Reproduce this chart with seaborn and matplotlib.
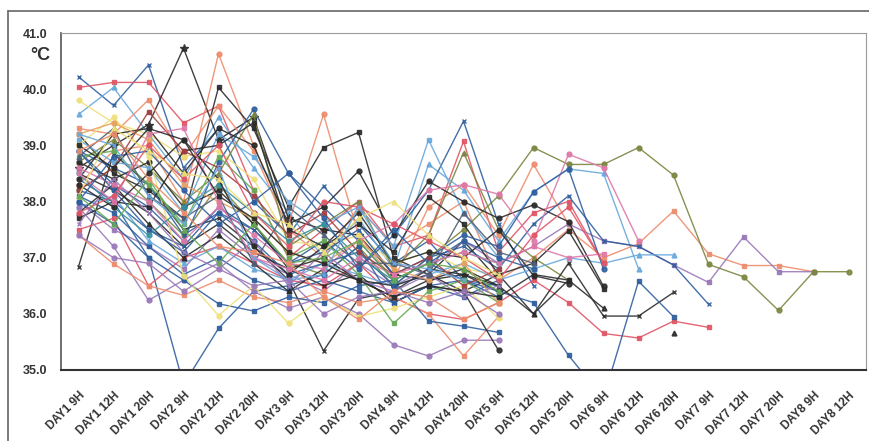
import numpy as np
import matplotlib
matplotlib.use("Agg")
import matplotlib.pyplot as plt
import seaborn as sns
from matplotlib.lines import Line2D

categories = ["DAY1 9H", "DAY1 12H", "DAY1 20H", "DAY2 9H", "DAY2 12H", "DAY2 20H",
              "DAY3 9H", "DAY3 12H", "DAY3 20H", "DAY4 9H", "DAY4 12H", "DAY4 20H",
              "DAY5 9H", "DAY5 12H", "DAY5 20H", "DAY6 9H", "DAY6 12H", "DAY6 20H",
              "DAY7 9H", "DAY7 12H", "DAY7 20H", "DAY8 9H", "DAY8 12H"]
y_ticks = [35.0, 36.0, 37.0, 38.0, 39.0, 40.0, 41.0]

s01 = [40.22, 39.71, 40.43, 38.6, 39.3, 38.0, 37.4, 38.27, 37.6, 36.9, 37.3, 36.6, 36.5]
s02 = [40.03, 40.12, 40.12, 39.4, 39.7, 38.2, 37.0, 37.5, 38.0, 37.2, 37.4, 39.07, 37.1, 37.8, 38.0, 36.9]
s03 = [39.55, 40.03, 39.2, 38.4, 39.5, 38.6, 37.8, 37.0, 37.7, 36.8, 38.66, 38.2, 37.3, 38.17, 38.58, 38.5, 36.8]
s04 = [38.6, 39.0, 39.37, 40.73, 39.1, 39.5, 37.7, 37.5, 37.4, 36.7, 36.6, 36.7, 36.4]
s05 = [38.3, 38.9, 39.0, 38.0, 40.63, 39.0, 37.6, 39.55, 37.4, 36.6, 37.9, 38.3, 37.4, 38.66, 37.6]
s06 = [39.2, 38.5, 38.2, 37.7, 40.03, 39.3, 37.9, 38.96, 39.23, 37.0, 36.7, 37.3, 36.6]
s07 = [39.3, 39.2, 39.81, 38.8, 39.7, 38.9, 37.5, 37.0, 37.9, 37.2, 37.6, 38.0, 36.6, 37.0, 37.5, 37.0, 37.25, 37.83, 37.07, 36.86, 36.86, 36.75]
s08 = [38.0, 37.5, 37.2, 36.8, 37.5, 37.0, 36.7, 36.4, 36.9, 36.5, 36.8, 37.3, 36.9, 37.2, 37.6, 37.3, 37.2, 36.87, 36.56, 37.37, 36.75, 36.75]
s09 = [38.2, 38.6, 38.0, 37.4, 38.3, 37.6, 36.9, 36.7, 37.2, 36.5, 37.0, 37.5, 38.1, 38.96, 38.66, 38.66, 38.96, 38.47, 36.88, 36.66, 36.06, 36.75, 36.75]
s10 = [39.8, 39.4, 39.2, 38.8, 38.9, 38.4, 37.3, 37.2, 37.4, 36.9, 37.1, 36.8, 36.7]
s11 = [38.2, 38.0, 37.0, 34.74, 35.74, 36.4, 36.5, 36.7, 37.2, 36.2, 36.5, 36.3, 36.6]
s12 = [36.84, 38.85, 38.3, 37.5, 37.7, 37.2, 36.6, 35.34, 36.27, 36.4, 36.8, 36.7, 36.5]
s13 = [38.9, 38.3, 37.9, 37.3, 38.7, 39.64, 38.5, 37.9, 37.3, 36.6, 36.9, 36.6, 36.3]
s14 = [38.7, 39.1, 38.6, 38.0, 38.5, 39.55, 37.2, 37.6, 38.0, 36.8, 37.4, 38.87, 37.5, 37.0, 36.6]
s15 = [38.9, 38.6, 38.3, 37.4, 37.8, 37.5, 36.9, 37.3, 36.8, 37.4, 38.2, 39.43, 37.6, 36.5]
s16 = [39.1, 38.7, 38.6, 37.8, 39.2, 38.8, 38.0, 37.6, 37.9, 37.2, 39.1, 37.8, 37.0]
s17 = [37.5, 37.7, 36.5, 37.0, 37.2, 36.9, 36.6, 36.5, 36.9, 36.3, 36.0, 35.9, 36.2, 36.6, 36.2, 35.65, 35.57, 35.87, 35.76]
s18 = [38.5, 38.2, 37.8, 37.2, 37.6, 37.1, 36.8, 36.5, 36.7, 36.2, 36.5, 36.4, 36.7, 36.0, 36.9, 35.96, 35.96, 36.38]
s19 = [38.1, 37.8, 37.2, 36.7, 37.0, 36.6, 36.4, 36.6, 36.4, 36.2, 36.5, 36.6, 36.4, 36.2, 35.26, 34.5, 36.58, 35.95]
s20 = [38.4, 38.0, 37.5, 37.2, 37.9, 37.5, 36.9, 37.1, 37.5, 36.7, 37.0, 37.2, 36.8, 37.6, 38.1, 37.3, 37.2, 36.87, 36.17]
s21 = [37.9, 38.1, 37.3, 36.9, 37.2, 36.8, 36.6, 36.9, 36.7, 36.5, 36.7, 36.9, 36.6, 36.8, 37.0, 36.9, 37.05, 37.05]
s22 = [37.8, 38.3, 37.6, 37.0, 37.4, 36.9, 36.4, 36.8, 36.6, 36.3, 36.6, 36.8, 36.5, 36.0, 36.6, 36.1, None, 35.65]
s23 = [37.9, 37.2, 36.24, 36.6, 36.9, 36.4, 36.1, 36.3, 36.0, 35.45, 35.25, 35.53, 35.53]
s24 = [37.4, 36.89, 36.5, 36.33, 36.6, 36.3, 36.2, 36.4, 36.2, 36.3, 36.0, 35.25, 35.95]
s25 = [38.0, 37.6, 37.0, 36.6, 36.18, 36.05, 36.3, 36.2, 36.5, 36.6, 35.87, 35.78, 35.67]
s26 = [38.7, 38.4, 38.7, 37.9, 38.2, 37.6, 36.8, 37.0, 36.6, 36.5, 36.7, 36.4, 35.35]
s27 = [39.0, 39.5, 38.8, 36.68, 35.97, 36.5, 35.83, 36.3, 35.95, 36.1, 36.3, 36.5, 35.92]
s28 = [38.8, 38.9, 38.3, 37.6, 38.8, 38.2, 37.0, 37.3, 36.7, 35.83, 36.4, 36.6, 36.2]
s29 = [38.4, 39.2, 39.3, 38.5, 39.3, 39.0, 37.6, 37.9, 38.54, 37.4, 38.36, 38.0, 37.7, 37.94, 37.64, 36.49]
s30 = [37.7, 38.0, 37.9, 38.9, 39.0, 39.4, 37.5, 37.2, 37.6, 37.1, 38.08, 37.6, 36.7, 36.9, 37.48, 36.45]
s31 = [38.6, 38.3, 38.0, 37.3, 37.9, 37.4, 36.9, 36.8, 37.3, 37.6, 38.2, 38.3, 38.13, 37.3, 38.84, 38.6, 37.3]
s32 = [38.9, 38.2, 37.5, 37.1, 37.8, 37.3, 36.7, 36.9, 37.1, 36.5, 37.0, 37.4, 37.2, 38.17, 38.58, 36.8]
s33 = [38.5, 37.9, 37.4, 37.9, 38.3, 37.8, 37.3, 37.6, 37.0, 36.6, 36.9, 37.1, 36.9]
s34 = [39.2, 39.4, 39.1, 38.3, 38.0, 37.7, 37.1, 36.9, 37.3, 36.8, 36.6, 36.9, 36.2]
s35 = [38.2, 38.6, 39.6, 38.9, 38.6, 38.1, 37.4, 37.8, 37.1, 36.7, 37.0, 36.5, 36.8]
s36 = [37.6, 38.4, 37.8, 37.1, 36.8, 37.3, 36.5, 37.1, 36.6, 36.4, 36.7, 36.3, 36.5]
s37 = [38.3, 37.9, 38.5, 39.1, 38.4, 37.2, 36.7, 37.2, 37.8, 36.9, 37.1, 37.0, 37.5, 36.68, 36.54]
s38 = [38.8, 39.3, 38.1, 37.7, 38.1, 36.9, 37.9, 37.4, 36.9, 36.9, 36.7, 37.8, 37.1, 36.9]
s39 = [38.5, 38.0, 39.2, 39.3, 38.0, 37.0, 36.8, 36.6, 37.0, 36.7, 36.9, 37.1, 36.9, 37.2, 37.0, 37.07]
s40 = [38.0, 38.8, 38.9, 38.2, 37.6, 38.0, 38.5, 37.7, 36.8, 37.5, 36.9, 37.3, 37.0, 36.8]
s41 = [37.8, 38.1, 39.0, 38.4, 39.0, 37.8, 37.2, 38.0, 37.9, 37.6, 37.3, 37.0, 36.6, 37.4, 37.9, 36.9]
s42 = [39.0, 38.6, 39.3, 39.1, 38.1, 37.7, 37.1, 36.9, 36.6, 36.3, 36.5, 36.4, 36.3, 36.7, 36.6]
s43 = [38.1, 39.3, 38.9, 38.5, 38.4, 37.8, 37.6, 37.1, 37.7, 38.0, 37.4, 37.0, 36.7]
s44 = [39.2, 39.0, 38.1, 37.6, 38.6, 37.0, 36.6, 36.7, 37.9, 36.9, 36.8, 36.6]
s45 = [38.1, 37.6, 38.4, 37.5, 36.9, 37.6, 36.9, 37.0, 37.3, 36.6, 36.9, 36.8, 36.4]
s46 = [37.4, 37.0, 36.9, 36.4, 36.8, 36.5, 36.6, 36.0, 36.3, 36.4, 36.2, 36.4, 36.0]
s47 = [38.9, 39.2, 38.4, 37.8, 37.2, 37.1, 36.9, 36.3, 35.9, 36.4, 36.3, 35.9, 36.2]

series = [s01, s02, s03, s04, s05, s06, s07, s08, s09, s10, s11, s12, s13, s14, s15, s16,
          s17, s18, s19, s20, s21, s22, s23, s24, s25, s26, s27, s28, s29, s30, s31, s32,
          s33, s34, s35, s36, s37, s38, s39, s40, s41, s42, s43, s44, s45, s46, s47]

BLK, BLU, RED, SAL, YEL, PUR, LBL, OLV, PNK, GRN, TEA, DRD, ORG = (
    "#2b2b2b", "#2f5f9f", "#e05566", "#ee8c6c", "#eee07a", "#9a78b8", "#68a8dc",
    "#7b8640", "#de78a8", "#66aa55", "#3a8f9f", "#a04040", "#e8a060")
colors = [BLU, RED, LBL, BLK, SAL, BLK, SAL, PUR, OLV, YEL, BLU, BLK, BLU, OLV, BLU, LBL,
          RED, BLK, BLU, BLU, LBL, BLK, PUR, SAL, BLU, BLK, YEL, GRN, BLK, BLK, PNK, BLU,
          TEA, ORG, DRD, PUR, BLK, "#50607a", PNK, BLU, RED, BLK, YEL, LBL, GRN, PUR, SAL]
markers = ["x", "s", "^", "*", "o", "s", "s", "s", "o", "o", "s", "x", "o", "^", "x", "s",
           "s", "x", "s", "x", "^", "^", "o", "s", "s", "o", "o", "s", "o", "s", "o", "o",
           "o", "o", "s", "x", "o", "^", "s", "o", "o", "s", "^", "x", "^", "o", "s"]

sns.set_style("white")
plt.rcParams["font.family"] = ["Liberation Sans", "DejaVu Sans"]

fig = plt.figure(figsize=(8.69, 4.41), dpi=100)
ax = fig.add_axes([61 / 869, 1 - 370 / 441, 805 / 869, 337 / 441])

for vals, c, m in zip(series, colors, markers):
    y = np.array([np.nan if v is None else v for v in vals], dtype=float)
    x = np.arange(len(y))
    runs, cur = [], []
    for i, v in enumerate(y):
        if np.isnan(v):
            if cur:
                runs.append(cur)
            cur = []
        else:
            cur.append(i)
    if cur:
        runs.append(cur)
    for r in runs:
        sns.lineplot(x=x[r], y=y[r], ax=ax, color=c, marker=m, markersize=3.5 if m != "*" else 6,
                     markeredgecolor=c, markeredgewidth=1.0, linewidth=1.0, alpha=0.9,
                     estimator=None, sort=False, legend=False)

ax.set_xlim(-0.5, len(categories) - 0.5)
ax.set_ylim(35.0, 41.0)
ax.set_yticks(y_ticks)
ax.set_yticklabels([f"{t:.1f}" for t in y_ticks], fontsize=9, fontweight="bold", color="#333333")
ax.set_xticks(np.arange(len(categories)))
ax.set_xticklabels(categories, rotation=45, ha="right", va="top", rotation_mode="anchor",
                   fontsize=8.5, fontweight="bold", color="#333333")
ax.set_xticks(np.arange(len(categories) + 1) - 0.5, minor=True)
ax.tick_params(axis="x", which="major", length=0, pad=14)
ax.tick_params(axis="x", which="minor", direction="in", length=4, width=1, color="#444444")
ax.tick_params(axis="y", direction="in", length=4, width=1, color="#444444", pad=10)
ax.set_xlabel("")
ax.set_ylabel("")
for side in ["top", "right"]:
    ax.spines[side].set_color("#9a9a9a")
    ax.spines[side].set_linewidth(0.8)
ax.spines["left"].set_color("#555555")
ax.spines["left"].set_linewidth(1.2)
ax.spines["bottom"].set_color("#333333")
ax.spines["bottom"].set_linewidth(1.5)

fig.text(40 / 869, 1 - 56 / 441, "°C", fontsize=13, fontweight="bold", color="#333333",
         ha="center", va="center")
fig.add_artist(Line2D([8 / 869, 8 / 869], [0, 1 - 11 / 441], transform=fig.transFigure,
                      color="#666666", linewidth=1.2))
fig.add_artist(Line2D([8 / 869, 1], [1 - 11 / 441, 1 - 11 / 441], transform=fig.transFigure,
                      color="#666666", linewidth=1.2))

fig.savefig("out.png", dpi=100, facecolor="white")
